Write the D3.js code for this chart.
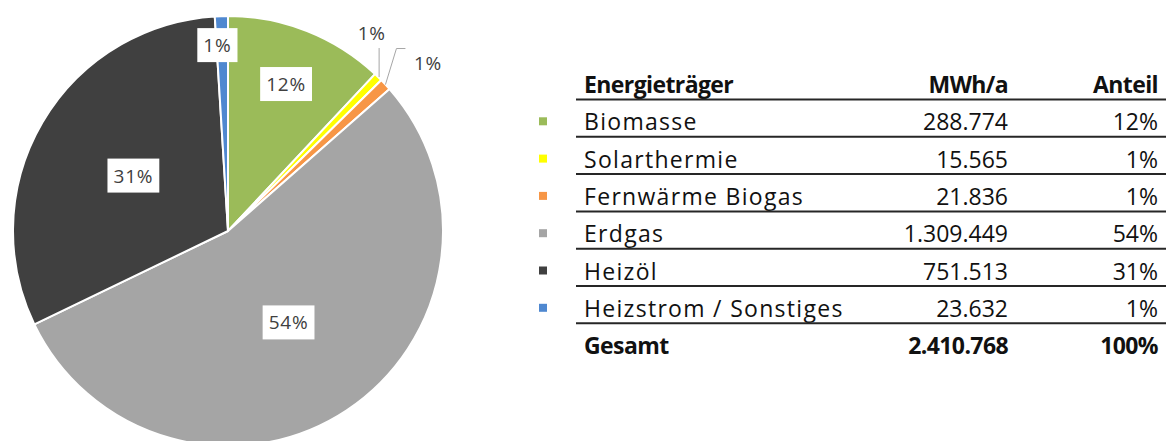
<!DOCTYPE html>
<html>
<head>
<meta charset="utf-8">
<script src="https://cdn.jsdelivr.net/npm/d3@7"></script>
<style>
  html, body { margin: 0; padding: 0; background: #fff; }
  svg { display: block; font-family: "Open Sans", "Noto Sans", sans-serif; }
</style>
</head>
<body>
<svg id="chart" width="1169" height="441"></svg>
<script>
// Data
var categories = ["Biomasse", "Solarthermie", "Fernwärme Biogas", "Erdgas", "Heizöl", "Heizstrom / Sonstiges"];
var mwh = [288774, 15565, 21836, 1309449, 751513, 23632];
var gesamt = 2410768;
var headers = ["Energieträger", "MWh/a", "Anteil"];
var totalLabel = "Gesamt";

// Colours of the slices (Excel palette)
var colors = ["#9bbb59", "#ffff00", "#f79646", "#a5a5a5", "#404040", "#4f88d0"];

// Label placement per slice: [radius factor, angle offset in degrees, outside?]
var labelPlace = [[0.735, 0, false], [1.138, -8.3, true], [1.216, 2.8, true],
                  [0.51, 0, false], [0.51, 0, false], [0.866, -1.5, false]];

var svg = d3.select("#chart");

var de = d3.formatLocale({ decimal: ",", thousands: ".", grouping: [3], currency: ["", " €"] });
var fmtNum = de.format(",d");
var fmtPct = d3.format(".0%");

// ---------- Pie ----------
var cx = 228, cy = 231, radius = 215;
var pieData = categories.map(function(c, i) { return { name: c, value: mwh[i], color: colors[i], idx: i }; });

var pie = d3.pie().sort(null).value(function(d) { return d.value; });
var arc = d3.arc().innerRadius(0).outerRadius(radius);
var arcs = pie(pieData);

var g = svg.append("g").attr("transform", "translate(" + cx + "," + cy + ")");

g.selectAll("path.slice")
  .data(arcs)
  .enter().append("path")
  .attr("class", "slice")
  .attr("d", arc)
  .attr("fill", function(d) { return d.data.color; })
  .attr("stroke", "#fff")
  .attr("stroke-width", 2)
  .attr("stroke-linejoin", "round");

function polar(r, ang) {
  return [r * Math.sin(ang), -r * Math.cos(ang)];
}

arcs.forEach(function(d, i) {
  var place = labelPlace[i];
  var mid = (d.startAngle + d.endAngle) / 2;
  var ang = mid + place[1] * Math.PI / 180;
  var p = polar(radius * place[0], ang);
  var txt = fmtPct(d.value / gesamt);

  if (place[2]) {
    // leader line from slice edge to label
    var edge = polar(radius, mid);
    var pts;
    if (i === 1) {
      pts = [[edge[0] + 1, edge[1]], [edge[0] + 1, p[1] + 15]];
    } else {
      pts = [edge, [edge[0] + 11, p[1] - 14], [edge[0] + 20, p[1] - 14]];
    }
    g.append("path")
      .attr("d", d3.line()(pts))
      .attr("fill", "none")
      .attr("stroke", "#a6a6a6")
      .attr("stroke-width", 1);
    g.append("text")
      .attr("x", p[0]).attr("y", p[1])
      .attr("text-anchor", "middle")
      .attr("dominant-baseline", "central")
      .attr("font-size", 19)
      .attr("letter-spacing", 0.6)
      .attr("fill", "#404040")
      .text(txt);
  } else {
    var lg = g.append("g").attr("transform", "translate(" + p[0] + "," + p[1] + ")");
    var rect = lg.append("rect").attr("fill", "#fff");
    var t = lg.append("text")
      .attr("text-anchor", "middle")
      .attr("dominant-baseline", "central")
      .attr("font-size", 19)
      .attr("letter-spacing", 0.8)
      .attr("fill", "#404040")
      .text(txt);
    var w = t.node().getComputedTextLength() + 12;
    rect.attr("x", -w / 2).attr("y", -17).attr("width", w).attr("height", 34);
  }
});

// ---------- Table ----------
var xSwatch = 543, xName = 584, xNum = 1008, xPct = 1158;
var lineX0 = 576, lineX1 = 1166;
var y = d3.scaleLinear().domain([0, 1]).range([93, 130.3]);

var tbl = svg.append("g").attr("font-size", 23).attr("fill", "#111");

function boldText(x, yy, anchor, s) {
  tbl.append("text")
    .attr("x", x).attr("y", yy)
    .attr("font-weight", "bold")
    .attr("letter-spacing", -0.6)
    .attr("text-anchor", anchor)
    .text(s);
}

// header
boldText(xName, y(0), "start", headers[0]);
boldText(xNum, y(0), "end", headers[1]);
boldText(xPct, y(0), "end", headers[2]);

// rows
var rows = tbl.selectAll("g.row")
  .data(pieData)
  .enter().append("g")
  .attr("class", "row");

rows.append("rect")
  .attr("x", xSwatch - 4)
  .attr("y", function(d, i) { return y(i + 1) - 13; })
  .attr("width", 8).attr("height", 8)
  .attr("fill", function(d) { return d.color; });

rows.append("text")
  .attr("x", xName)
  .attr("y", function(d, i) { return y(i + 1); })
  .attr("letter-spacing", 1.3)
  .text(function(d) { return d.name; });

rows.append("text")
  .attr("x", xNum)
  .attr("y", function(d, i) { return y(i + 1); })
  .attr("text-anchor", "end")
  .text(function(d) { return fmtNum(d.value); });

rows.append("text")
  .attr("x", xPct)
  .attr("y", function(d, i) { return y(i + 1); })
  .attr("text-anchor", "end")
  .text(function(d) { return fmtPct(d.value / gesamt); });

// total
var nTot = categories.length + 1;
boldText(xName, y(nTot), "start", totalLabel);
boldText(xNum, y(nTot), "end", fmtNum(gesamt));
boldText(xPct, y(nTot), "end", fmtPct(1));

// rules under header and every row
tbl.selectAll("line.rule")
  .data(d3.range(categories.length + 1))
  .enter().append("line")
  .attr("class", "rule")
  .attr("x1", lineX0).attr("x2", lineX1)
  .attr("y1", function(i) { return y(i) + 6.5; })
  .attr("y2", function(i) { return y(i) + 6.5; })
  .attr("stroke", "#262626")
  .attr("stroke-width", 2);
</script>
</body>
</html>
